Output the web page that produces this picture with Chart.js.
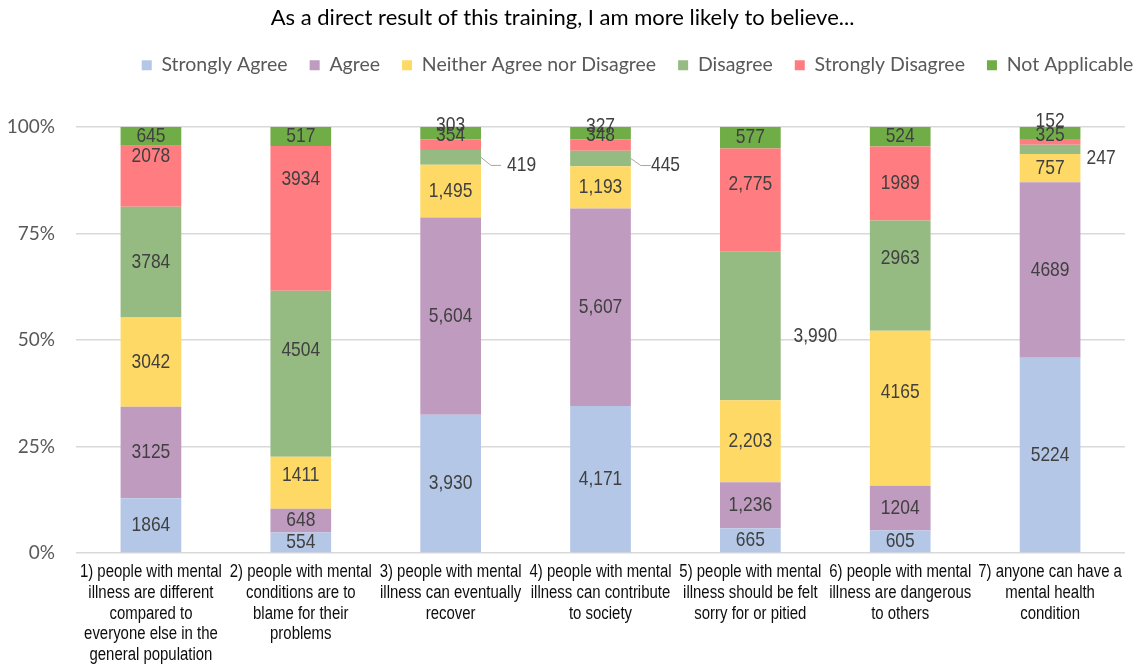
<!DOCTYPE html>
<html>
<head>
<meta charset="utf-8">
<script src="https://cdn.jsdelivr.net/npm/chart.js@4.4.1/dist/chart.umd.min.js"></script>
<style>
	html, body { margin: 0; padding: 0; background: #fff; }
	#wrap { width: 1143px; height: 666px; }
</style>
</head>
<body>
<div id="wrap"><canvas id="chart" width="1143" height="666"></canvas></div>
<script>
const categories = [
	['1) people with mental', 'illness are different', 'compared to', 'everyone else in the', 'general population'],
	['2) people with mental', 'conditions are to', 'blame for their', 'problems'],
	['3) people with mental', 'illness can eventually', 'recover'],
	['4) people with mental', 'illness can contribute', 'to society'],
	['5) people with mental', 'illness should be felt', 'sorry for or pitied'],
	['6) people with mental', 'illness are dangerous', 'to others'],
	['7) anyone can have a', 'mental health', 'condition']
];
const stronglyAgree = [1864, 554, 3930, 4171, 665, 605, 5224];
const agree = [3125, 648, 5604, 5607, 1236, 1204, 4689];
const neither = [3042, 1411, 1495, 1193, 2203, 4165, 757];
const disagree = [3784, 4504, 419, 445, 3990, 2963, 247];
const stronglyDisagree = [2078, 3934, 303, 327, 2775, 1989, 152];
const notApplicable = [645, 517, 354, 348, 577, 524, 325];
const useComma = [false, false, true, true, true, false, false];
const yTicks = [0, 25, 50, 75, 100];

const series = [
	{ name: 'Strongly Agree', counts: stronglyAgree, color: '#B4C7E7' },
	{ name: 'Agree', counts: agree, color: '#BF9BBF' },
	{ name: 'Neither Agree nor Disagree', counts: neither, color: '#FFD966' },
	{ name: 'Disagree', counts: disagree, color: '#95BA82' },
	{ name: 'Strongly Disagree', counts: stronglyDisagree, color: '#FF7C80' },
	{ name: 'Not Applicable', counts: notApplicable, color: '#70AD47' }
];

const totals = categories.map((c, i) => series.reduce((s, d) => s + d.counts[i], 0));

// narrow look: Liberation Sans squeezed horizontally
const NARROW = 0.83;

// label nudges (dataset index-category index) -> pixel offsets
const labelTweaks = {
	'3-2': { dx: 71, dy: 8, leader: true },
	'3-3': { dx: 65, dy: 7, leader: true },
	'3-6': { dx: 51, dy: 9 },
	'3-4': { dx: 65, dy: 10 },
	'3-1': { dy: -24 },
	'4-0': { dy: -20 },
	'4-1': { dy: -39 },
	'4-2': { dy: -19 },
	'4-3': { dy: -19 },
	'4-4': { dy: -16 },
	'4-6': { dy: -21 },
	'5-2': { dy: 2 },
	'5-3': { dy: 2 },
	'5-6': { dy: 2 },
	'2-1': { dy: -8 },
	'2-5': { dy: -16 },
	'3-5': { dy: -17 }
};

function fmt(v, i) {
	return useComma[i] ? v.toLocaleString('en-US') : String(v);
}

function narrowText(ctx, text, x, y) {
	ctx.save();
	ctx.translate(x, y);
	ctx.scale(NARROW, 1);
	ctx.fillText(text, 0, 0);
	ctx.restore();
}

const segmentLabels = {
	id: 'segmentLabels',
	afterDatasetsDraw(chart) {
		const ctx = chart.ctx;
		ctx.save();
		ctx.font = '21px "Liberation Sans", Arial, sans-serif';
		ctx.fillStyle = '#404040';
		ctx.textAlign = 'center';
		ctx.textBaseline = 'middle';
		chart.data.datasets.forEach((ds, d) => {
			const meta = chart.getDatasetMeta(d);
			meta.data.forEach((bar, i) => {
				const p = bar.getProps(['x', 'y', 'base', 'width'], true);
				const cy = (p.y + p.base) / 2;
				const t = labelTweaks[d + '-' + i] || {};
				const lx = p.x + (t.dx || 0);
				const ly = cy + (t.dy || 0);
				if (t.leader) {
					const edge = p.x + p.width / 2;
					ctx.strokeStyle = '#A6A6A6';
					ctx.lineWidth = 1;
					ctx.beginPath();
					ctx.moveTo(edge, cy);
					ctx.lineTo(edge + 10, ly);
					ctx.lineTo(edge + 20, ly);
					ctx.stroke();
				}
				narrowText(ctx, fmt(series[d].counts[i], i), lx, ly);
			});
		});
		ctx.restore();
	}
};

// category labels drawn by hand so they can be squeezed like Arial Narrow
const categoryLabels = {
	id: 'categoryLabels',
	afterDraw(chart) {
		const ctx = chart.ctx;
		const xs = chart.scales.x;
		ctx.save();
		ctx.font = '18px "Liberation Sans", Arial, sans-serif';
		ctx.fillStyle = '#0D0D0D';
		ctx.textAlign = 'center';
		ctx.textBaseline = 'middle';
		categories.forEach((lines, i) => {
			const x = xs.getPixelForTick(i);
			lines.forEach((line, k) => {
				narrowText(ctx, line, x, chart.chartArea.bottom + 19 + k * 20.8);
			});
		});
		ctx.restore();
	}
};

// more room under the legend, and the legend sits right of centre like the original
const LEGEND_SHIFT = 75;
const legendGap = {
	id: 'legendGap',
	beforeInit(chart) {
		const legend = chart.legend;
		const fit = legend.fit;
		legend.fit = function () {
			fit.bind(legend)();
			this.height += 42;
		};
		const draw = legend.draw;
		legend.draw = function () {
			this.left += LEGEND_SHIFT;
			this.right += LEGEND_SHIFT;
			draw.call(legend);
			this.left -= LEGEND_SHIFT;
			this.right -= LEGEND_SHIFT;
		};
	}
};

new Chart(document.getElementById('chart'), {
	type: 'bar',
	data: {
		labels: categories,
		datasets: series.map(s => ({
			label: s.name,
			data: s.counts.map((v, i) => v / totals[i] * 100),
			backgroundColor: s.color,
			borderWidth: 0,
			categoryPercentage: 1,
			barPercentage: 0.405
		}))
	},
	options: {
		responsive: false,
		animation: false,
		layout: { padding: { left: 0, right: 18, top: 0, bottom: 0 } },
		plugins: {
			tooltip: { enabled: false },
			title: {
				display: true,
				text: 'As a direct result of this training, I am more likely to believe...',
				color: '#000',
				font: { family: 'Lato', size: 22, weight: 'normal' },
				padding: { top: 5, bottom: 2 }
			},
			legend: {
				position: 'top',
				labels: {
					color: '#595959',
					font: { family: 'Lato', size: 19.5 },
					boxWidth: 10,
					boxHeight: 10,
					padding: 22
				}
			}
		},
		scales: {
			x: {
				stacked: true,
				grid: { display: false },
				border: { display: false },
				ticks: { display: false },
				afterFit(scale) { scale.height = 113; }
			},
			y: {
				stacked: true,
				min: 0,
				max: 100,
				afterBuildTicks(scale) { scale.ticks = yTicks.map(v => ({ value: v })); },
				grid: { color: '#D9D9D9', lineWidth: 1.5, drawTicks: false },
				border: { display: false },
				ticks: {
					color: '#595959',
					font: { family: 'Lato', size: 19 },
					padding: 21,
					callback: v => v + '%'
				},
				afterFit(scale) { scale.width = 76; }
			}
		}
	},
	plugins: [segmentLabels, categoryLabels, legendGap]
});
</script>
</body>
</html>
